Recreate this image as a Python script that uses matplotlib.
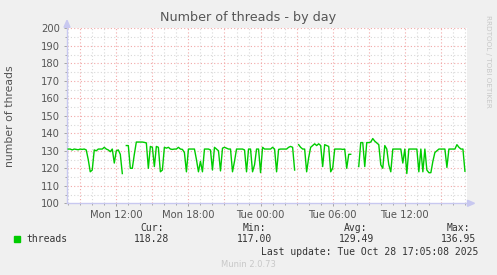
import numpy as np
import matplotlib
matplotlib.use("Agg")
import matplotlib.pyplot as plt

nan = np.nan
# samples every 10 minutes, starting Mon 08:00 (hours counted from Mon 00:00)
start_hour = 8.0
step_hours = 1.0 / 6.0
threads = [
    131, 131, 130.5, 131, 130.8, 130.6,
    131, 130.8, 131, 130.5, 125, 118,
    119, 130.5, 130, 131, 131, 131,
    132, 131, 130.5, 129.5, 131, 123,
    130, 130.5, 128, 117, nan, 133,
    133, 120, 120, 128, 135, 135,
    135, 135, 134.8, 134.5, 120, 132.5,
    132, 121, 132.5, 132, 118, 119,
    132, 131.5, 132, 131, 130.8, 131,
    131, 132, 131, 130.8, 129, 118,
    131, 131, 131, 131, 125, 118,
    124, 118, 131, 131, 131, 130.5,
    119, 132, 131, 130, 118.5, 131.5,
    132, 131.5, 131, 131, 118, 124,
    131, 131, 131, 131, 130.5, 118,
    131, 131, 118, 122, 131, 131,
    117.5, 132, 131, 131, 131, 131,
    132, 131, 118, 130.8, 131, 131,
    131, 131, 132, 132.5, 132, 119,
    nan, 133.5, 132, 131, 131, 118,
    126, 132, 133, 134, 133, 134,
    133, 121, 133.5, 133, 132.5, 118,
    120, 131, 131, 131, 131, 130.8,
    131, 120, 128, 128, nan, nan,
    nan, 121, 134.7, 134.7, 121, 134.7,
    134.7, 135, 137, 135.5, 134.5, 133.5,
    122, 120, 133, 131, 122, 118,
    131, 131, 131, 131, 131, 123,
    131, 117, 131, 131, 131, 131,
    131, 118, 131, 118, 131, 119,
    117.5, 117.5, 124, 129, 130, 131,
    131, 131, 131, 120.5, 131, 131,
    131, 131, 133.5, 132, 131, 131,
    118.3,
]
tick_hours = [12, 18, 24, 30, 36]
tick_labels = ["Mon 12:00", "Mon 18:00", "Tue 00:00", "Tue 06:00", "Tue 12:00"]
y_ticks = list(range(100, 201, 10))
stats_names = ["Cur:", "Min:", "Avg:", "Max:"]
stats_values = ["118.28", "117.00", "129.49", "136.95"]
x_start, x_end = 7.9, 41.13

W, H = 497, 275
fig = plt.figure(figsize=(W / 100, H / 100), dpi=100, facecolor="#F0F0F0")
left, right, top, bottom = 67, 466.5, 28.3, 203.3
ax = fig.add_axes([left / W, 1 - bottom / H, (right - left) / W, (bottom - top) / H])
ax.set_facecolor("white")

x = start_hour + step_hours * np.arange(len(threads))
ax.plot(x, threads, color="#00CC00", lw=1.0, zorder=3)

ax.set_xlim(x_start, x_end)
ax.set_ylim(100, 200)
ax.set_xticks(tick_hours)
ax.set_xticklabels(tick_labels)
ax.set_xticks(np.arange(8, 42, 1), minor=True)
ax.set_yticks(y_ticks)
ax.set_yticks(np.arange(100, 201, 5), minor=True)

# grids
for h in np.arange(8, 42, 1):
    col = "#F2A8A8" if h % 3 == 0 else "#D8D8D8"
    ax.axvline(h, color=col, lw=0.8, ls=(0, (1, 2)), zorder=1)
for v in np.arange(105, 201, 5):
    col = "#F2A8A8" if v % 10 == 0 else "#D8D8D8"
    ax.axhline(v, color=col, lw=0.8, ls=(0, (1, 2)), zorder=1)

for s in ["top", "right"]:
    ax.spines[s].set_visible(False)
for s in ["left", "bottom"]:
    ax.spines[s].set_color("#C8C8F0")
    ax.spines[s].set_linewidth(1.0)

ax.tick_params(axis="both", which="both", colors="#999999", labelcolor="#555555",
               labelsize=7.2, length=2, width=0.6)
ax.tick_params(axis="x", which="major", pad=3)
ax.tick_params(axis="y", which="major", pad=3)
ax.tick_params(axis="both", which="minor", length=1.5)

# axis arrows
fig.patches.append(matplotlib.patches.Polygon(
    [[(left - 3) / W, 1 - (top - 1) / H], [(left + 3) / W, 1 - (top - 1) / H], [left / W, 1 - (top - 8) / H]],
    closed=True, transform=fig.transFigure, color="#C8C8F0", zorder=5))
fig.patches.append(matplotlib.patches.Polygon(
    [[(right + 1) / W, 1 - (bottom - 3) / H], [(right + 1) / W, 1 - (bottom + 3) / H], [(right + 8) / W, 1 - bottom / H]],
    closed=True, transform=fig.transFigure, color="#C8C8F0", zorder=5))

def ft(px, py, s, **kw):
    fig.text(px / W, 1 - py / H, s, **kw)

ft(248.5, 18, "Number of threads - by day", ha="center", va="center", fontsize=9.2, color="#555555")
ft(10, 115.8, "number of threads", ha="center", va="center", rotation=90, fontsize=7.8, color="#555555")
ft(488, 15, "RRDTOOL / TOBI OETIKER", ha="center", va="top", rotation=270, fontsize=5.2, color="#C8C8C8")

mono = dict(family="DejaVu Sans Mono", fontsize=7, color="#333333", va="center")
fig.patches.append(matplotlib.patches.Rectangle((14 / W, 1 - 242 / H), 6 / W, 6 / H,
                                                transform=fig.transFigure, color="#00CC00"))
ft(26.5, 239, "threads", ha="left", **mono)
hdr_x = [140, 242.7, 344.3, 446.7]
val_x = [134.3, 237.3, 339.3, 441]
for n, hx, v, vx in zip(stats_names, hdr_x, stats_values, val_x):
    ft(hx, 228, n, ha="left", **mono)
    ft(vx, 239, v, ha="left", **mono)
ft(261, 251.7, "Last update: Tue Oct 28 17:05:08 2025", ha="left", **mono)
ft(248.5, 264.3, "Munin 2.0.73", ha="center", va="center", fontsize=6, color="#C8C8C8")

fig.savefig("out.png", dpi=100, facecolor=fig.get_facecolor())
